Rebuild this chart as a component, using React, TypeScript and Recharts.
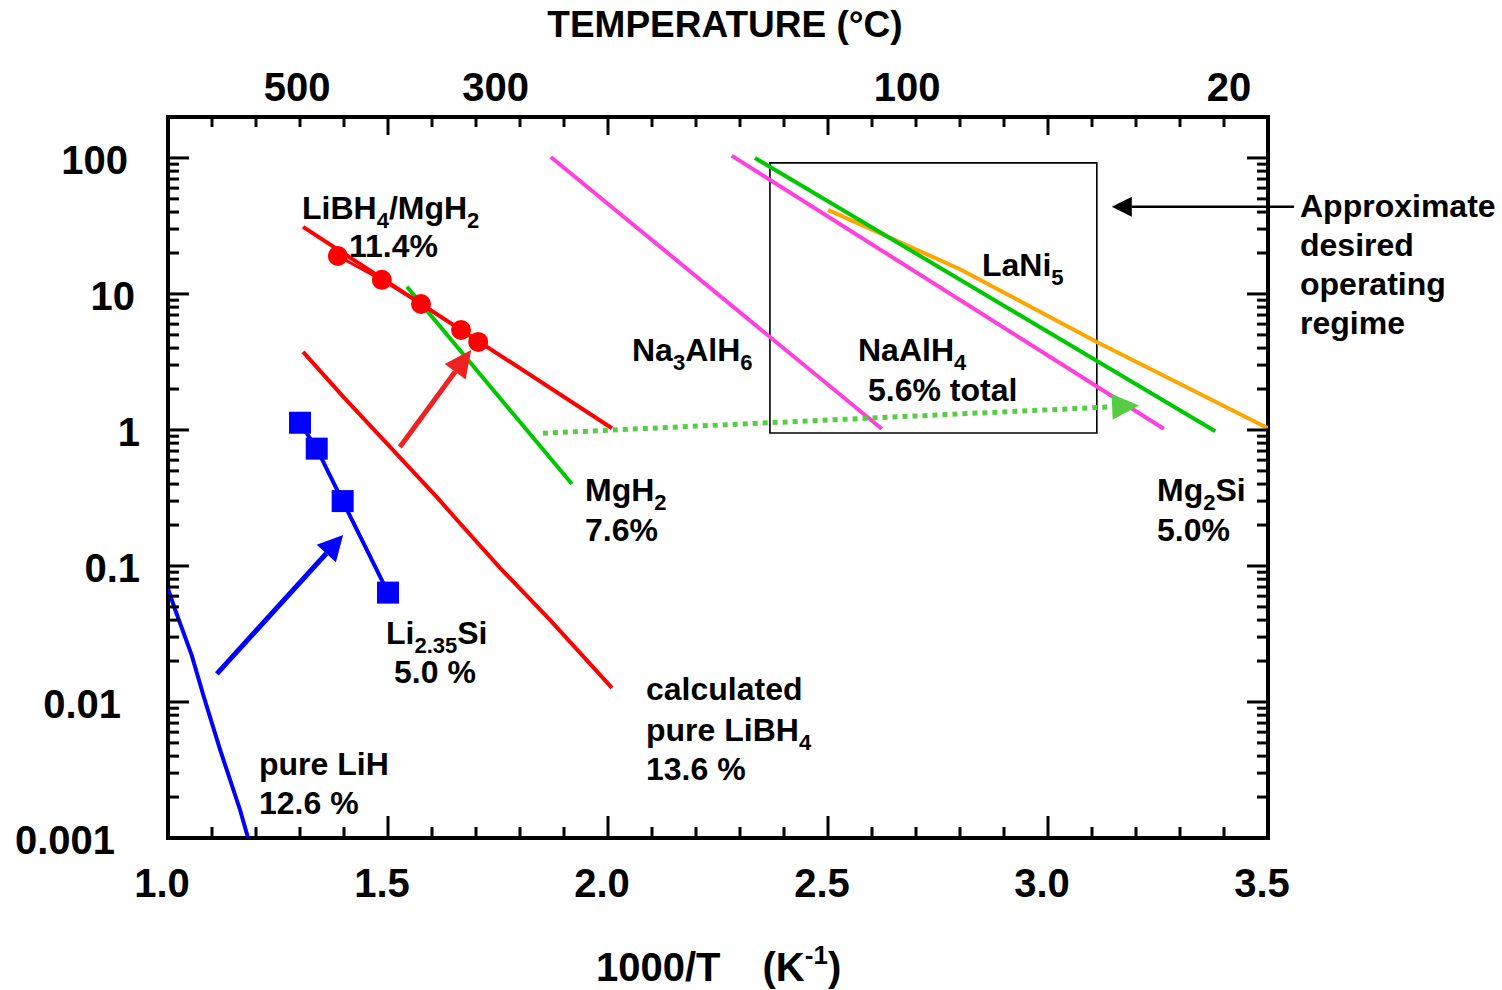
import React from "react";
import {
  ComposedChart,
  Line,
  XAxis,
  YAxis,
  ReferenceLine,
  ReferenceArea,
} from "recharts";

// x = 1000/T (K^-1), y = equilibrium pressure (bar)
const pureLiH = [
  { x: 1.0, y: 0.068 },
  { x: 1.016, y: 0.048 },
  { x: 1.054, y: 0.022 },
  { x: 1.08, y: 0.0113 },
  { x: 1.118, y: 0.0045 },
  { x: 1.164, y: 0.0016 },
  { x: 1.182, y: 0.001 },
];

const li235Si = [
  { x: 1.3, y: 1.13 },
  { x: 1.338, y: 0.729 },
  { x: 1.397, y: 0.3 },
  { x: 1.5, y: 0.0637 },
];

const libh4MgH2Fit = [
  { x: 1.307, y: 31.1 },
  { x: 2.009, y: 1.03 },
];

const libh4MgH2Data = [
  { x: 1.386, y: 19.0 },
  { x: 1.486, y: 12.7 },
  { x: 1.575, y: 8.44 },
  { x: 1.666, y: 5.43 },
  { x: 1.705, y: 4.44 },
];

const pureLiBH4 = [
  { x: 1.307, y: 3.75 },
  { x: 1.398, y: 1.76 },
  { x: 1.511, y: 0.713 },
  { x: 1.611, y: 0.321 },
  { x: 1.659, y: 0.214 },
  { x: 1.755, y: 0.0966 },
  { x: 1.868, y: 0.0401 },
  { x: 2.009, y: 0.0127 },
];

const mgH2 = [
  { x: 1.543, y: 11.3 },
  { x: 1.918, y: 0.4 },
];

const na3AlH6 = [
  { x: 1.87, y: 101.7 },
  { x: 2.622, y: 1.02 },
];

const naAlH4 = [
  { x: 2.281, y: 104 },
  { x: 3.263, y: 1.02 },
];

const mg2Si = [
  { x: 2.334, y: 100 },
  { x: 3.38, y: 0.98 },
];

const laNi5 = [
  { x: 2.5, y: 41.5 },
  { x: 2.8, y: 15.2 },
  { x: 3.111, y: 4.43 },
  { x: 3.5, y: 1.03 },
];

// annotation arrows (tail, tip)
const blueArrow = [
  { x: 1.111, y: 0.0161 },
  { x: 1.398, y: 0.169 },
];
const redArrow = [
  { x: 1.527, y: 0.75 },
  { x: 1.689, y: 3.87 },
];
const greenArrow = [
  { x: 1.852, y: 0.946 },
  { x: 3.207, y: 1.51 },
];
const regimeArrow = [
  { x: 3.559, y: 43.8 },
  { x: 3.145, y: 43.8 },
];
const regimeBox = { x1: 2.368, x2: 3.111, y1: 0.95, y2: 92 };

const xMajor = [1.0, 1.5, 2.0, 2.5, 3.0, 3.5];
const yMajor = [0.001, 0.01, 0.1, 1, 10, 100];
const tempLabels = [500, 300, 100, 20];

const xTicks: number[] = [];
for (let i = 10; i <= 35; i++) xTicks.push(i / 10);
const yTicks: number[] = [];
yMajor.forEach((d) => {
  for (let m = 1; m <= 9; m++) {
    const v = +(d * m).toPrecision(3);
    if (v <= 200) yTicks.push(v);
  }
});
const topTicks = [...xTicks, ...tempLabels.map((t) => 1000 / (t + 273.15))];

const FONT = "'Liberation Sans', Arial, Helvetica, sans-serif";
const RED = "#FF0000";
const GREEN = "#00C800";
const MAGENTA = "#FF40DC";
const BLUE = "#0000FF";
const ORANGE = "#FFA500";

// label right edges for the left axis (they are not aligned in the original)
const yLabelRight: Record<string, number> = {
  "100": 128,
  "10": 135,
  "1": 140,
  "0.1": 140,
  "0.01": 121,
  "0.001": 115,
};

const isMajorX = (v: number) => xMajor.some((m) => Math.abs(m - v) < 1e-6);
const isDecade = (v: number) =>
  Math.abs(Math.log10(v) - Math.round(Math.log10(v))) < 1e-6;

const BottomTick = (props: any) => {
  const { x, y, payload } = props;
  const v = payload.value as number;
  const major = isMajorX(v);
  return (
    <g>
      <line x1={x} y1={y} x2={x} y2={y - (major ? 22 : 11)} stroke="#000" strokeWidth={3} />
      {major && (
        <text x={x - 6} y={y + 59} textAnchor="middle" fontSize={40} fontWeight="bold" fontFamily={FONT} fill="#000">
          {v.toFixed(1)}
        </text>
      )}
    </g>
  );
};

const TopTick = (props: any) => {
  const { x, y, payload } = props;
  const v = payload.value as number;
  const onGrid = Math.abs(v * 10 - Math.round(v * 10)) < 1e-6;
  if (!onGrid) {
    return (
      <text x={x} y={y - 16} textAnchor="middle" fontSize={40} fontWeight="bold" fontFamily={FONT} fill="#000">
        {Math.round(1000 / v - 273.15)}
      </text>
    );
  }
  const major = isMajorX(v);
  return <line x1={x} y1={y} x2={x} y2={y + (major ? 18 : 10)} stroke="#000" strokeWidth={3} />;
};

const LeftTick = (props: any) => {
  const { x, y, payload } = props;
  const v = payload.value as number;
  const major = isDecade(v);
  const label = String(v);
  return (
    <g>
      <line x1={x} y1={y} x2={x + (major ? 21 : 11)} y2={y} stroke="#000" strokeWidth={3} />
      {major && (
        <text x={yLabelRight[label] ?? 140} y={y + 16} textAnchor="end" fontSize={40} fontWeight="bold" fontFamily={FONT} fill="#000">
          {label}
        </text>
      )}
    </g>
  );
};

const RightTick = (props: any) => {
  const { x, y, payload } = props;
  const major = isDecade(payload.value as number);
  return <line x1={x} y1={y} x2={x - (major ? 21 : 11)} y2={y} stroke="#000" strokeWidth={3} />;
};

const arrowShape =
  (color: string, width: number, headLen: number, headHalf: number, dash?: string) =>
  (p: any) => {
    const { x1, y1, x2, y2 } = p;
    const dx = x2 - x1;
    const dy = y2 - y1;
    const len = Math.hypot(dx, dy) || 1;
    const ux = dx / len;
    const uy = dy / len;
    const bx = x2 - ux * headLen;
    const by = y2 - uy * headLen;
    const pts = `${x2},${y2} ${bx - uy * headHalf},${by + ux * headHalf} ${bx + uy * headHalf},${by - ux * headHalf}`;
    return (
      <g>
        <line x1={x1} y1={y1} x2={bx} y2={by} stroke={color} strokeWidth={width} strokeDasharray={dash} />
        <polygon points={pts} fill={color} />
      </g>
    );
  };

const redDot = (p: any) => <circle key={`r${p.index}`} cx={p.cx} cy={p.cy} r={10} fill={RED} />;
const blueSquare = (p: any) => (
  <rect key={`b${p.index}`} x={p.cx - 11} y={p.cy - 11} width={22} height={22} fill={BLUE} />
);

// parts: plain strings, or ["4"] for a subscript
type Part = string | [string];
const SUB_SHIFT = 9;

const Note = ({ x, y, parts }: { x: number; y: number; parts: Part[] }) => {
  let down = false;
  return (
    <text x={x} y={y} fontSize={32} fontWeight="bold" fontFamily={FONT} fill="#000">
      {parts.map((p, i) => {
        if (Array.isArray(p)) {
          const el = (
            <tspan key={i} dy={down ? 0 : SUB_SHIFT} fontSize={22}>
              {p[0]}
            </tspan>
          );
          down = true;
          return el;
        }
        const el = (
          <tspan key={i} dy={down ? -SUB_SHIFT : 0}>
            {p}
          </tspan>
        );
        down = false;
        return el;
      })}
    </text>
  );
};

function Annotations() {
  return (
    <svg width={1502} height={990} style={{ position: "absolute", left: 0, top: 0, pointerEvents: "none" }}>
      <text x={725} y={37} textAnchor="middle" fontSize={37} fontWeight="bold" fontFamily={FONT} fill="#000">
        TEMPERATURE (°C)
      </text>
      <text x={596} y={981} fontSize={40} fontWeight="bold" fontFamily={FONT} fill="#000">
        1000/T
        <tspan dx={42}>(K</tspan>
        <tspan dy={-17} fontSize={26}>-1</tspan>
        <tspan dy={17}>)</tspan>
      </text>

      <Note x={302} y={219} parts={["LiBH", ["4"], "/MgH", ["2"]]} />
      <Note x={349} y={257} parts={["11.4%"]} />

      <Note x={632} y={361} parts={["Na", ["3"], "AlH", ["6"]]} />
      <Note x={858} y={361} parts={["NaAlH", ["4"]]} />
      <Note x={868} y={401} parts={["5.6% total"]} />
      <Note x={982} y={276} parts={["LaNi", ["5"]]} />

      <Note x={585} y={501} parts={["MgH", ["2"]]} />
      <Note x={585} y={541} parts={["7.6%"]} />
      <Note x={1157} y={501} parts={["Mg", ["2"], "Si"]} />
      <Note x={1157} y={541} parts={["5.0%"]} />

      <Note x={386} y={644} parts={["Li", ["2.35"], "Si"]} />
      <Note x={394} y={683} parts={["5.0 %"]} />

      <Note x={646} y={700} parts={["calculated"]} />
      <Note x={646} y={741} parts={["pure LiBH", ["4"]]} />
      <Note x={646} y={780} parts={["13.6 %"]} />

      <Note x={259} y={775} parts={["pure LiH"]} />
      <Note x={259} y={814} parts={["12.6 %"]} />

      <Note x={1300} y={217} parts={["Approximate"]} />
      <Note x={1300} y={256} parts={["desired"]} />
      <Note x={1300} y={295} parts={["operating"]} />
      <Note x={1300} y={334} parts={["regime"]} />
    </svg>
  );
}

export default function App() {
  return (
    <div style={{ position: "absolute", left: 0, top: 0, width: 1502, height: 990, background: "#fff" }}>
      <ComposedChart width={1502} height={990} margin={{ top: 67, right: 204, bottom: 102, left: 68 }}>
        <XAxis
          dataKey="x"
          type="number"
          domain={[1, 3.5]}
          ticks={xTicks}
          interval={0}
          allowDataOverflow
          height={50}
          axisLine={false}
          tickLine={false}
          tickSize={0}
          tickMargin={0}
          tick={<BottomTick />}
        />
        <XAxis
          xAxisId="top"
          orientation="top"
          dataKey="x"
          type="number"
          domain={[1, 3.5]}
          ticks={topTicks}
          interval={0}
          allowDataOverflow
          height={50}
          axisLine={false}
          tickLine={false}
          tickSize={0}
          tickMargin={0}
          tick={<TopTick />}
        />
        <YAxis
          type="number"
          scale="log"
          domain={[0.001, 200]}
          ticks={yTicks}
          interval={0}
          allowDataOverflow
          width={100}
          axisLine={false}
          tickLine={false}
          tickSize={0}
          tickMargin={0}
          tick={<LeftTick />}
        />
        <YAxis
          yAxisId="right"
          orientation="right"
          type="number"
          scale="log"
          domain={[0.001, 200]}
          ticks={yTicks}
          interval={0}
          allowDataOverflow
          width={30}
          axisLine={false}
          tickLine={false}
          tickSize={0}
          tickMargin={0}
          tick={<RightTick />}
        />

        <ReferenceArea
          x1={regimeBox.x1}
          x2={regimeBox.x2}
          y1={regimeBox.y1}
          y2={regimeBox.y2}
          fill="none"
          stroke="#000"
          strokeWidth={1.6}
          ifOverflow="visible"
        />

        <Line data={laNi5} dataKey="y" stroke={ORANGE} strokeWidth={4} dot={false} activeDot={false} isAnimationActive={false} />
        <Line data={mg2Si} dataKey="y" stroke={GREEN} strokeWidth={4} dot={false} activeDot={false} isAnimationActive={false} />
        <Line data={naAlH4} dataKey="y" stroke={MAGENTA} strokeWidth={4} dot={false} activeDot={false} isAnimationActive={false} />
        <Line data={na3AlH6} dataKey="y" stroke={MAGENTA} strokeWidth={4} dot={false} activeDot={false} isAnimationActive={false} />
        <Line data={mgH2} dataKey="y" stroke={GREEN} strokeWidth={4} dot={false} activeDot={false} isAnimationActive={false} />
        <Line data={pureLiBH4} dataKey="y" stroke={RED} strokeWidth={4} dot={false} activeDot={false} isAnimationActive={false} />
        <Line data={libh4MgH2Fit} dataKey="y" stroke={RED} strokeWidth={4} dot={false} activeDot={false} isAnimationActive={false} />
        <Line data={libh4MgH2Data} dataKey="y" stroke={RED} strokeWidth={3} dot={redDot} activeDot={false} isAnimationActive={false} />
        <Line data={pureLiH} dataKey="y" stroke={BLUE} strokeWidth={4} dot={false} activeDot={false} isAnimationActive={false} />
        <Line data={li235Si} dataKey="y" stroke={BLUE} strokeWidth={4} dot={blueSquare} activeDot={false} isAnimationActive={false} />

        <ReferenceLine segment={blueArrow} shape={arrowShape(BLUE, 5, 25, 13)} ifOverflow="visible" />
        <ReferenceLine segment={redArrow} shape={arrowShape("#EE2222", 5, 27, 13)} ifOverflow="visible" />
        <ReferenceLine segment={greenArrow} shape={arrowShape("#55CC44", 5, 27, 13, "5 5")} ifOverflow="visible" />
        <ReferenceLine segment={regimeArrow} shape={arrowShape("#000", 2.5, 20, 10)} ifOverflow="visible" />

        <ReferenceArea x1={1} x2={3.5} y1={0.001} y2={200} fill="none" stroke="#000" strokeWidth={4} ifOverflow="visible" />
      </ComposedChart>
      <Annotations />
    </div>
  );
}
